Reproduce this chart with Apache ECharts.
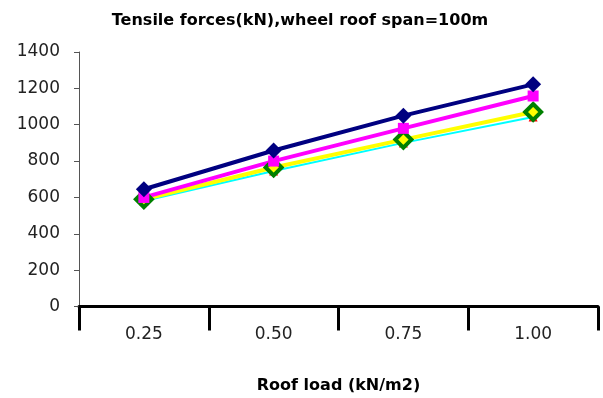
<!DOCTYPE html>
<html><head><meta charset="utf-8">
<script src="https://cdn.jsdelivr.net/npm/echarts@6/dist/echarts.min.js"></script>
<style>html,body{margin:0;padding:0;background:#fff}#c{width:603px;height:398px}</style>
</head><body><div id="c"></div>
<script>
var categories = ['0.25', '0.50', '0.75', '1.00'];
var seriesNavy = [645, 858, 1050, 1222];
var seriesMagenta = [600, 800, 980, 1158];
var seriesYellow = [590, 765, 918, 1070];
var seriesCyan = [580, 745, 900, 1042];
var yTicks = [0, 200, 400, 600, 800, 1000, 1200, 1400];

var chart = echarts.init(document.getElementById('c'));
chart.setOption({
  animation: false,
  backgroundColor: '#fff',
  title: {
    text: 'Tensile forces(kN),wheel roof span=100m',
    left: 295, top: 8, textAlign: 'center',
    textStyle: {fontFamily: 'DejaVu Sans', fontWeight: 'bold', fontSize: 16, color: '#000'}
  },
  grid: {left: 79, right: 5, top: 52, bottom: 91.5, containLabel: false, outerBoundsMode: 'none'},
  xAxis: {
    type: 'category', data: categories, boundaryGap: true,
    name: 'Roof load (kN/m2)', nameLocation: 'middle', nameGap: 71,
    nameTextStyle: {fontFamily: 'DejaVu Sans', fontWeight: 'bold', fontSize: 16, color: '#000'},
    axisLine: {lineStyle: {color: '#000', width: 3}},
    axisTick: {show: true, length: 24, alignWithLabel: false, lineStyle: {color: '#000', width: 3}},
    axisLabel: {fontFamily: 'DejaVu Sans', fontSize: 17, color: '#222', margin: 20}
  },
  yAxis: {
    type: 'value', min: 0, max: 1400, interval: 200,
    axisLine: {show: true, lineStyle: {color: '#555', width: 1}},
    axisTick: {show: true, length: 5, lineStyle: {color: '#555'}},
    splitLine: {show: false},
    axisLabel: {fontFamily: 'DejaVu Sans', fontSize: 17, color: '#222', margin: 19,
      formatter: function(v){ return yTicks.indexOf(v) >= 0 ? String(v) : ''; }}
  },
  series: [
    {name: 'S4', type: 'line', data: seriesCyan, symbol: 'triangle', symbolSize: 9,
     lineStyle: {color: '#00FFFF', width: 2}, itemStyle: {color: '#FF0000'}},
    {name: 'S3', type: 'line', data: seriesYellow, symbol: 'diamond', symbolSize: 16,
     lineStyle: {color: '#FFFF00', width: 4}, itemStyle: {color: '#FFFF00', borderColor: '#008000', borderWidth: 4}},
    {name: 'S2', type: 'line', data: seriesMagenta, symbol: 'rect', symbolSize: 11,
     lineStyle: {color: '#FF00FF', width: 4}, itemStyle: {color: '#FF00FF'}},
    {name: 'S1', type: 'line', data: seriesNavy, symbol: 'diamond', symbolSize: 16,
     lineStyle: {color: '#000080', width: 4}, itemStyle: {color: '#000080'}}
  ]
});
</script></body></html>
